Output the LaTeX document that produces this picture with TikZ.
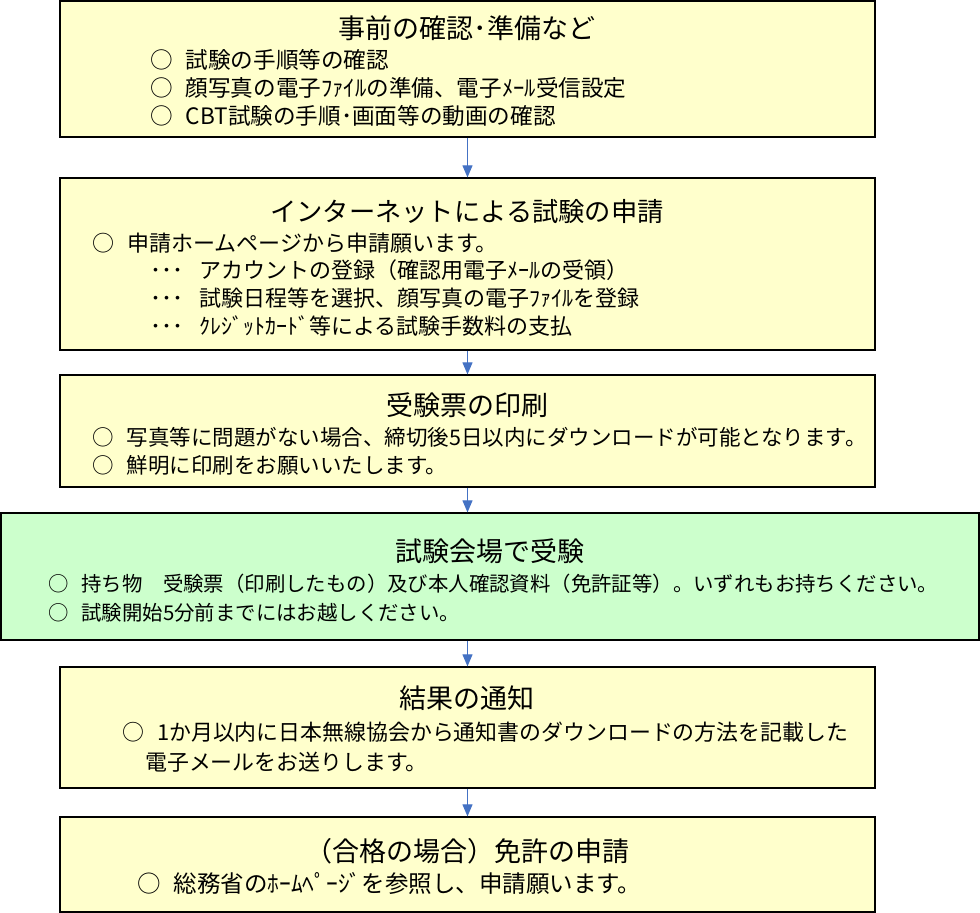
\documentclass[tikz,border=0pt]{standalone}
\usepackage{fontspec}
\setmainfont{Noto Sans CJK JP}
\usetikzlibrary{arrows.meta}
\definecolor{boxyellow}{HTML}{FFFFCC}
\definecolor{boxgreen}{HTML}{CCFFCC}
\definecolor{flowblue}{HTML}{4472C4}

\begin{document}
\begin{tikzpicture}[x=1pt,y=-1pt,
  yellowbox/.style={draw=black,line width=1.2pt,fill=boxyellow,inner sep=0pt},
  greenbox/.style={draw=black,line width=1.2pt,fill=boxgreen,inner sep=0pt},
  title/.style={inner sep=0pt,font=\fontsize{27}{30}\selectfont},
  item/.style={anchor=west,inner sep=0pt},
  flowarrow/.style={draw=flowblue,line width=1pt,-{Triangle[width=10pt,length=12pt]}}]
\useasboundingbox (0,0) rectangle (980,913);
\node[yellowbox,minimum width=815pt,minimum height=136pt] (prep) at (467.5,69) {};
\node[title] (preptitle) at (467,28) {事前の確認･準備など};
\node[item,font=\fontsize{22.6}{24}\selectfont] (prep1) at (150,60) {○\hspace{13pt}試験の手順等の確認};
\node[item,font=\fontsize{22.6}{24}\selectfont] (prep2) at (150,88) {○\hspace{13pt}顔写真の電子ﾌｧｲﾙの準備、電子ﾒｰﾙ受信設定};
\node[item,font=\fontsize{22.6}{24}\selectfont] (prep3) at (150,116) {○\hspace{13pt}CBT試験の手順･画面等の動画の確認};
%%%%%%%%%%%%%%%%
\node[yellowbox,minimum width=815pt,minimum height=172pt] (apply) at (467.5,264) {};
\node[title,font=\fontsize{26.3}{30}\selectfont] (applytitle) at (467,212) {インターネットによる試験の申請};
\node[item,font=\fontsize{22}{24}\selectfont] (apply1) at (92,243) {○\hspace{13pt}申請ホームページから申請願います。};
\node[item,font=\fontsize{22}{24}\selectfont] (apply2) at (150,270) {･･･\hspace{16pt}アカウントの登録（確認用電子ﾒｰﾙの受領）};
\node[item,font=\fontsize{22}{24}\selectfont] (apply3) at (150,298) {･･･\hspace{16pt}試験日程等を選択、顔写真の電子ﾌｧｲﾙを登録};
\node[item,font=\fontsize{22}{24}\selectfont] (apply4) at (150,326) {･･･\hspace{16pt}ｸﾚｼﾞｯﾄｶｰﾄﾞ等による試験手数料の支払};
%%%%%%%%%%%%%%%%
\node[yellowbox,minimum width=815pt,minimum height=112pt] (print) at (467.5,431) {};
\node[title] (printtitle) at (467,405) {受験票の印刷};
\node[item,font=\fontsize{21.5}{24}\selectfont] (print1) at (92,437) {○\hspace{13pt}写真等に問題がない場合、締切後5日以内にダウンロードが可能となります。};
\node[item,font=\fontsize{21.5}{24}\selectfont] (print2) at (92,465) {○\hspace{13pt}鮮明に印刷をお願いいたします。};
%%%%%%%%%%%%%%%%
\node[greenbox,minimum width=978pt,minimum height=127pt] (exam) at (490,576.5) {};
\node[title] (examtitle) at (490,551) {試験会場で受験};
\node[item,font=\fontsize{20.4}{24}\selectfont] (exam1) at (48,584) {○\hspace{13pt}持ち物　受験票（印刷したもの）及び本人確認資料（免許証等）。いずれもお持ちください。};
\node[item,font=\fontsize{20.4}{24}\selectfont] (exam2) at (48,613) {○\hspace{13pt}試験開始5分前までにはお越しください。};
%%%%%%%%%%%%%%%%
\node[yellowbox,minimum width=815pt,minimum height=121pt] (result) at (467.5,727.5) {};
\node[title] (resulttitle) at (467,698) {結果の通知};
\node[item,font=\fontsize{21.9}{24}\selectfont] (result1) at (122,732) {○\hspace{13pt}1か月以内に日本無線協会から通知書のダウンロードの方法を記載した};
\node[item,font=\fontsize{21.9}{24}\selectfont] (result2) at (145,762) {電子メールをお送りします。};
%%%%%%%%%%%%%%%%
\node[yellowbox,minimum width=815pt,minimum height=95pt] (licence) at (467.5,864.5) {};
\node[title] (licencetitle) at (467,851) {（合格の場合）免許の申請};
\node[item,font=\fontsize{23.5}{24}\selectfont] (licence1) at (137,883) {○\hspace{13pt}総務省のﾎｰﾑﾍﾟｰｼﾞを参照し、申請願います。};
%%%%%%%%%%%%%%%%
\draw[flowarrow] (prep.south) -- (apply.north);
\draw[flowarrow] (apply.south) -- (print.north);
\draw[flowarrow] (print.south) -- (print.south |- exam.north);
\draw[flowarrow] (result.north |- exam.south) -- (result.north);
\draw[flowarrow] (result.south) -- (licence.north);
\end{tikzpicture}
\end{document}
